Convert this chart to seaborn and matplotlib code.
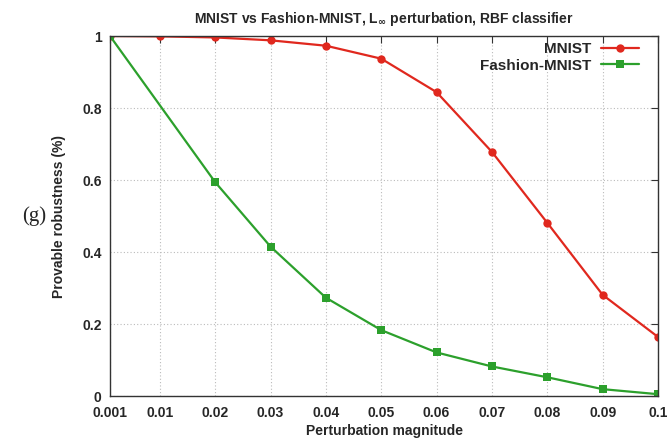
import matplotlib
matplotlib.use("Agg")
import matplotlib.pyplot as plt
import seaborn as sns
import pandas as pd

# values
mnist_x = [0.001, 0.01, 0.02, 0.03, 0.04, 0.05, 0.06, 0.07, 0.08, 0.09, 0.1]
mnist_y = [1.0, 0.999, 0.996, 0.988, 0.973, 0.937, 0.844, 0.678, 0.481, 0.281, 0.164]
fashion_x = [0.001, 0.02, 0.03, 0.04, 0.05, 0.06, 0.07, 0.08, 0.09, 0.1]
fashion_y = [1.0, 0.594, 0.415, 0.273, 0.183, 0.121, 0.082, 0.052, 0.019, 0.005]

xticks = [0.001, 0.01, 0.02, 0.03, 0.04, 0.05, 0.06, 0.07, 0.08, 0.09, 0.1]
xtick_labels = ["0.001", "0.01", "0.02", "0.03", "0.04", "0.05", "0.06", "0.07", "0.08", "0.09", "0.1"]
yticks = [0, 0.2, 0.4, 0.6, 0.8, 1]
ytick_labels = ["0", "0.2", "0.4", "0.6", "0.8", "1"]

df = pd.concat([
    pd.DataFrame({"eps": mnist_x, "rob": mnist_y, "set": "MNIST"}),
    pd.DataFrame({"eps": fashion_x, "rob": fashion_y, "set": "Fashion-MNIST"}),
])

sns.set_style("white")
plt.rcParams["font.family"] = ["Liberation Sans", "DejaVu Sans"]
plt.rcParams["font.weight"] = "bold"
plt.rcParams["mathtext.default"] = "bf"

fig = plt.figure(figsize=(6.67, 4.41), dpi=100)
ax = fig.add_axes([110 / 667, 1 - 396 / 441, 548 / 667, 360 / 441])

palette = {"MNIST": "#e0281e", "Fashion-MNIST": "#2ca02c"}
sns.lineplot(data=df, x="eps", y="rob", hue="set", style="set",
             markers={"MNIST": "o", "Fashion-MNIST": "s"}, dashes=False,
             palette=palette, linewidth=1.6, markersize=6,
             markeredgewidth=0, ax=ax, sort=False)

ax.set_xlim(0.001, 0.1)
ax.set_ylim(0, 1)
ax.set_xticks(xticks)
ax.set_xticklabels(xtick_labels, fontsize=10, fontweight="bold")
ax.set_yticks(yticks)
ax.set_yticklabels(ytick_labels, fontsize=10, fontweight="bold")
ax.tick_params(direction="in", top=True, right=True, length=5, width=0.8,
               color="#333333")
ax.tick_params(axis="x", pad=7)
ax.tick_params(axis="y", pad=6)
ax.grid(True, linestyle=(0, (1, 2)), color="#bbbbbb", linewidth=0.8)
for s in ax.spines.values():
    s.set_color("#333333")
    s.set_linewidth(1.0)

ax.set_xlabel("Perturbation magnitude", fontsize=10, fontweight="bold", labelpad=3)
ax.set_ylabel("Provable robustness (%)", fontsize=10, fontweight="bold", labelpad=12)
ax.set_title(r"MNIST vs Fashion-MNIST, L$_{\infty}$ perturbation, RBF classifier",
             fontsize=10, fontweight="bold", pad=9)

handles, labels = ax.get_legend_handles_labels()
leg = ax.legend(handles, labels, loc="upper right", bbox_to_anchor=(0.965, 0.982),
                markerfirst=False, frameon=False, fontsize=11, handlelength=2.5,
                borderaxespad=0, borderpad=0, labelspacing=0.15, handletextpad=0.6)
for t in leg.get_texts():
    t.set_fontweight("bold")

fig.text(34 / 667, 1 - 216 / 441, "(g)", fontsize=15, family="Liberation Serif",
         fontweight="normal", ha="center", va="center")

fig.savefig("out.png", dpi=100)
